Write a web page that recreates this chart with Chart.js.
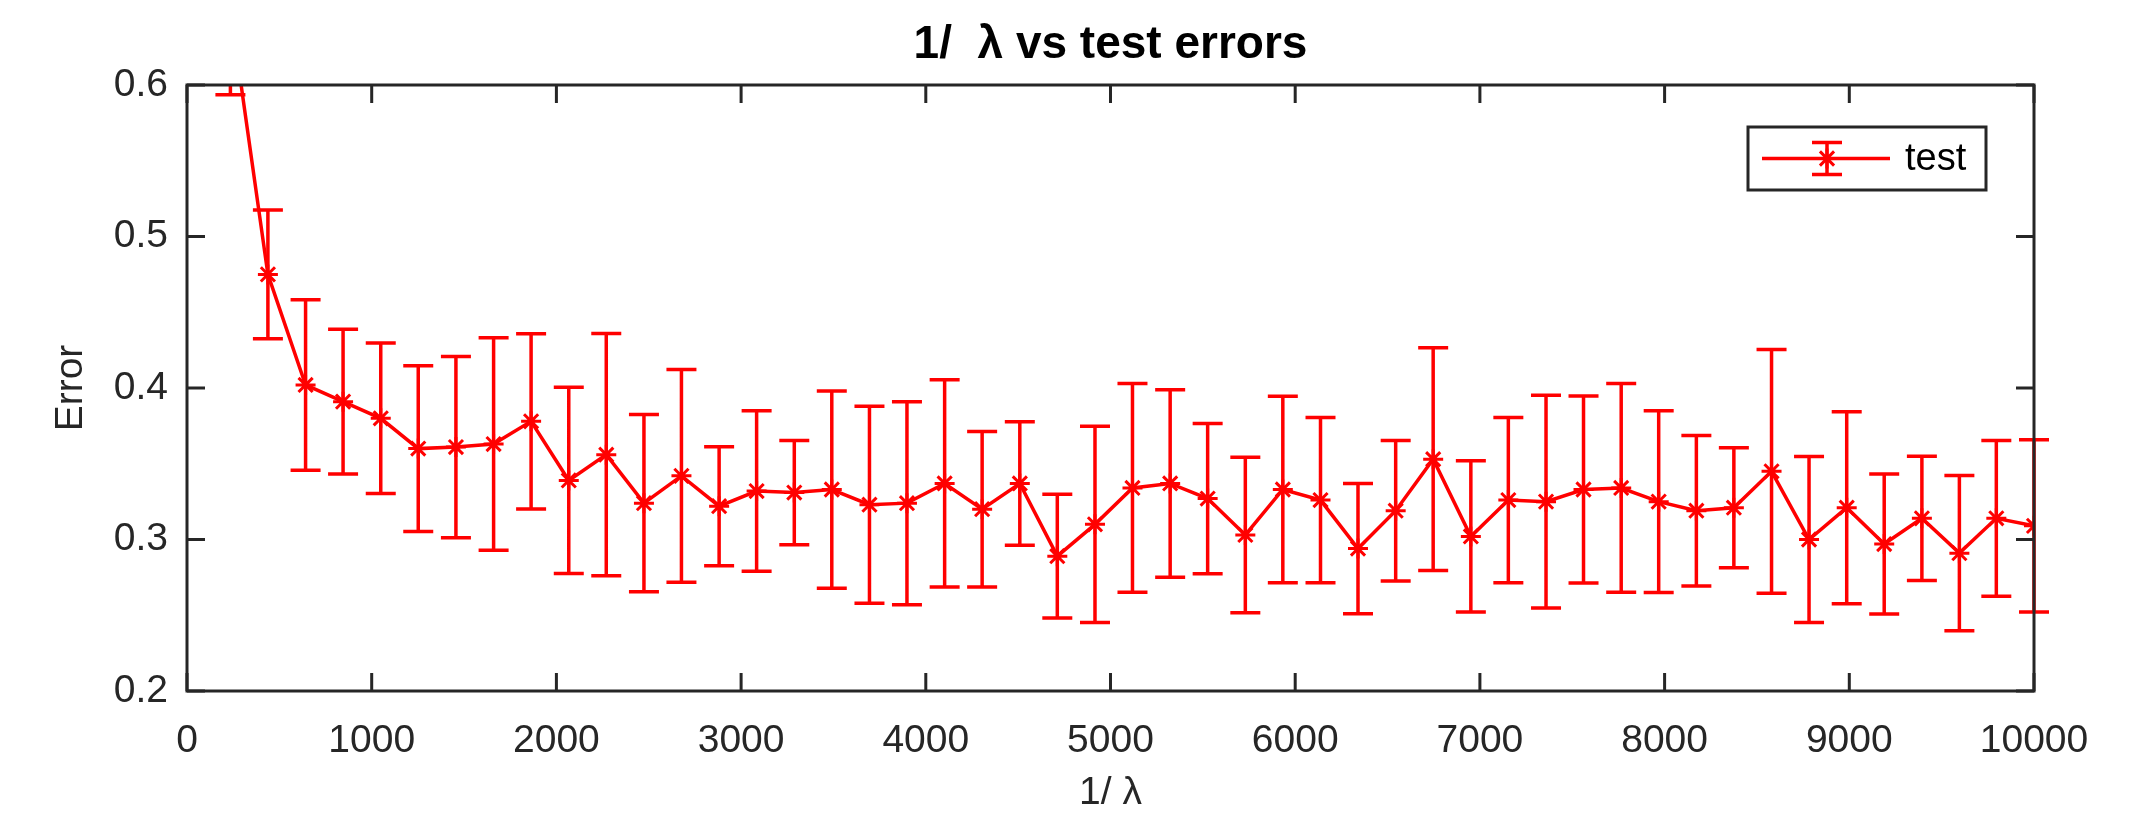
<!DOCTYPE html>
<html>
<head>
<meta charset="utf-8">
<script src="https://cdn.jsdelivr.net/npm/chart.js@4.4.1/dist/chart.umd.min.js"></script>
<style>
  html, body { margin: 0; padding: 0; background: #fff; }
  #wrap { width: 2142px; height: 827px; }
</style>
</head>
<body>
<div id="wrap"><canvas id="errChart" width="2142" height="827"></canvas></div>
<script>
// 1/lambda sweep
const lambdaInv = [235, 438, 642, 845, 1049, 1252, 1456, 1660, 1863, 2067,
  2270, 2474, 2677, 2881, 3084, 3288, 3491, 3695, 3898, 4102,
  4305, 4509, 4712, 4916, 5119, 5323, 5526, 5730, 5933, 6137,
  6340, 6544, 6747, 6951, 7154, 7358, 7561, 7765, 7968, 8172,
  8375, 8579, 8782, 8986, 9189, 9393, 9596, 9796, 10000];

// mean test error per setting
const testErr = [0.650, 0.475, 0.402, 0.391, 0.380, 0.360, 0.361, 0.363, 0.378, 0.339,
  0.356, 0.324, 0.342, 0.322, 0.332, 0.331, 0.333, 0.323, 0.324, 0.337,
  0.320, 0.337, 0.289, 0.310, 0.334, 0.337, 0.327, 0.303, 0.333, 0.326,
  0.294, 0.319, 0.353, 0.302, 0.326, 0.325, 0.333, 0.334, 0.325, 0.319,
  0.321, 0.345, 0.300, 0.321, 0.297, 0.314, 0.291, 0.314, 0.309];

// half-length of each error bar
const testStd = [0.0565, 0.0425, 0.0563, 0.0477, 0.0497, 0.0547, 0.0598, 0.0701, 0.0578, 0.0615,
  0.0800, 0.0585, 0.0702, 0.0393, 0.0530, 0.0344, 0.0651, 0.0650, 0.0670, 0.0684,
  0.0513, 0.0408, 0.0408, 0.0648, 0.0689, 0.0619, 0.0496, 0.0513, 0.0615, 0.0545,
  0.0430, 0.0464, 0.0735, 0.0499, 0.0545, 0.0702, 0.0617, 0.0689, 0.0600, 0.0497,
  0.0396, 0.0804, 0.0548, 0.0634, 0.0462, 0.0410, 0.0512, 0.0514, 0.0569];

const xTicks = [0, 1000, 2000, 3000, 4000, 5000, 6000, 7000, 8000, 9000, 10000];
const yTicks = [0.2, 0.3, 0.4, 0.5, 0.6];

const RED = '#ff0000';
const AXIS = '#262626';
const FONT = "'Liberation Sans', Arial, Helvetica, sans-serif";

// vertical error bars with caps, clipped top/bottom to the axes box
const errorBars = {
  id: 'errorBars',
  beforeDatasetsDraw(chart) {
    const { ctx, chartArea: a, scales: { x, y } } = chart;
    ctx.save();
    ctx.beginPath();
    ctx.rect(a.left - 20, a.top, a.right - a.left + 40, a.bottom - a.top);
    ctx.clip();
    ctx.strokeStyle = RED;
    ctx.lineWidth = 3.5;
    ctx.beginPath();
    lambdaInv.forEach((v, i) => {
      const px = x.getPixelForValue(v);
      const hi = y.getPixelForValue(testErr[i] + testStd[i]);
      const lo = y.getPixelForValue(testErr[i] - testStd[i]);
      ctx.moveTo(px, hi); ctx.lineTo(px, lo);
      ctx.moveTo(px - 15, hi); ctx.lineTo(px + 15, hi);
      ctx.moveTo(px - 15, lo); ctx.lineTo(px + 15, lo);
    });
    ctx.stroke();
    ctx.restore();
  }
};

// box around the axes with inward ticks on all four sides, plus the legend
const axesBox = {
  id: 'axesBox',
  afterDatasetsDraw(chart) {
    const { ctx, chartArea: a, scales: { x, y } } = chart;
    const tl = 18;
    ctx.save();
    ctx.strokeStyle = AXIS;
    ctx.lineWidth = 3;
    ctx.beginPath();
    xTicks.forEach(v => {
      const px = x.getPixelForValue(v);
      ctx.moveTo(px, a.bottom); ctx.lineTo(px, a.bottom - tl);
      ctx.moveTo(px, a.top); ctx.lineTo(px, a.top + tl);
    });
    yTicks.forEach(v => {
      const py = y.getPixelForValue(v);
      ctx.moveTo(a.left, py); ctx.lineTo(a.left + tl, py);
      ctx.moveTo(a.right, py); ctx.lineTo(a.right - tl, py);
    });
    ctx.stroke();
    ctx.strokeRect(a.left, a.top, a.right - a.left, a.bottom - a.top);

    // legend in the upper right corner
    const bx = a.right - 286, by = a.top + 42, bw = 238, bh = 63;
    ctx.fillStyle = '#fff';
    ctx.fillRect(bx, by, bw, bh);
    ctx.strokeRect(bx, by, bw, bh);
    const cy = by + bh / 2, cx = bx + 79;
    ctx.strokeStyle = RED;
    ctx.lineWidth = 3.5;
    ctx.beginPath();
    ctx.moveTo(bx + 14, cy); ctx.lineTo(bx + 142, cy);
    ctx.moveTo(cx, cy - 16); ctx.lineTo(cx, cy + 16);
    ctx.moveTo(cx - 15, cy - 16); ctx.lineTo(cx + 15, cy - 16);
    ctx.moveTo(cx - 15, cy + 16); ctx.lineTo(cx + 15, cy + 16);
    ctx.stroke();
    ctx.lineWidth = 3;
    ctx.beginPath();
    for (let k = 0; k < 4; k++) {
      const ang = k * Math.PI / 4;
      ctx.moveTo(cx - 10 * Math.cos(ang), cy - 10 * Math.sin(ang));
      ctx.lineTo(cx + 10 * Math.cos(ang), cy + 10 * Math.sin(ang));
    }
    ctx.stroke();
    ctx.fillStyle = '#000';
    ctx.font = '38px ' + FONT;
    ctx.textBaseline = 'middle';
    ctx.textAlign = 'left';
    ctx.fillText('test', bx + 157, cy + 1);
    ctx.restore();
  }
};

new Chart(document.getElementById('errChart'), {
  type: 'line',
  data: {
    datasets: [{
      label: 'test',
      data: lambdaInv.map((v, i) => ({ x: v, y: testErr[i] })),
      borderColor: RED,
      backgroundColor: RED,
      borderWidth: 3.5,
      pointStyle: 'star',
      pointRadius: 10,
      pointBorderWidth: 3,
      pointBorderColor: RED,
      tension: 0
    }]
  },
  options: {
    responsive: false,
    animation: false,
    layout: { padding: { left: 0, right: 108, top: 0, bottom: 0 } },
    plugins: {
      legend: { display: false },
      tooltip: { enabled: false },
      title: {
        display: true,
        text: '1/  λ vs test errors',
        fullSize: false,
        color: '#000',
        font: { family: FONT, size: 46, weight: 'bold', lineHeight: 1.2 },
        padding: { top: 17.4, bottom: 12.4 }
      }
    },
    scales: {
      x: {
        type: 'linear',
        min: 0, max: 10000,
        afterFit: s => { s.height = 136; },
        afterBuildTicks: s => { s.ticks = xTicks.map(v => ({ value: v })); },
        grid: { display: false, drawTicks: false },
        border: { display: false },
        ticks: {
          padding: 27,
          color: AXIS,
          font: { family: FONT, size: 39 },
          maxRotation: 0,
          callback: v => String(v)
        },
        title: {
          display: true,
          text: '1/ λ',
          color: AXIS,
          font: { family: FONT, size: 39, lineHeight: 1.2 },
          padding: { top: 0, bottom: 10 }
        }
      },
      y: {
        min: 0.2, max: 0.6,
        afterFit: s => { s.width = 187; },
        afterBuildTicks: s => { s.ticks = yTicks.map(v => ({ value: v })); },
        grid: { display: false, drawTicks: false },
        border: { display: false },
        ticks: {
          padding: 19,
          color: AXIS,
          font: { family: FONT, size: 39 },
          callback: v => v.toFixed(1)
        },
        title: {
          display: true,
          text: 'Error',
          color: AXIS,
          font: { family: FONT, size: 39, lineHeight: 1.2 },
          padding: { top: 48, bottom: 0 }
        }
      }
    }
  },
  plugins: [errorBars, axesBox]
});
</script>
</body>
</html>
